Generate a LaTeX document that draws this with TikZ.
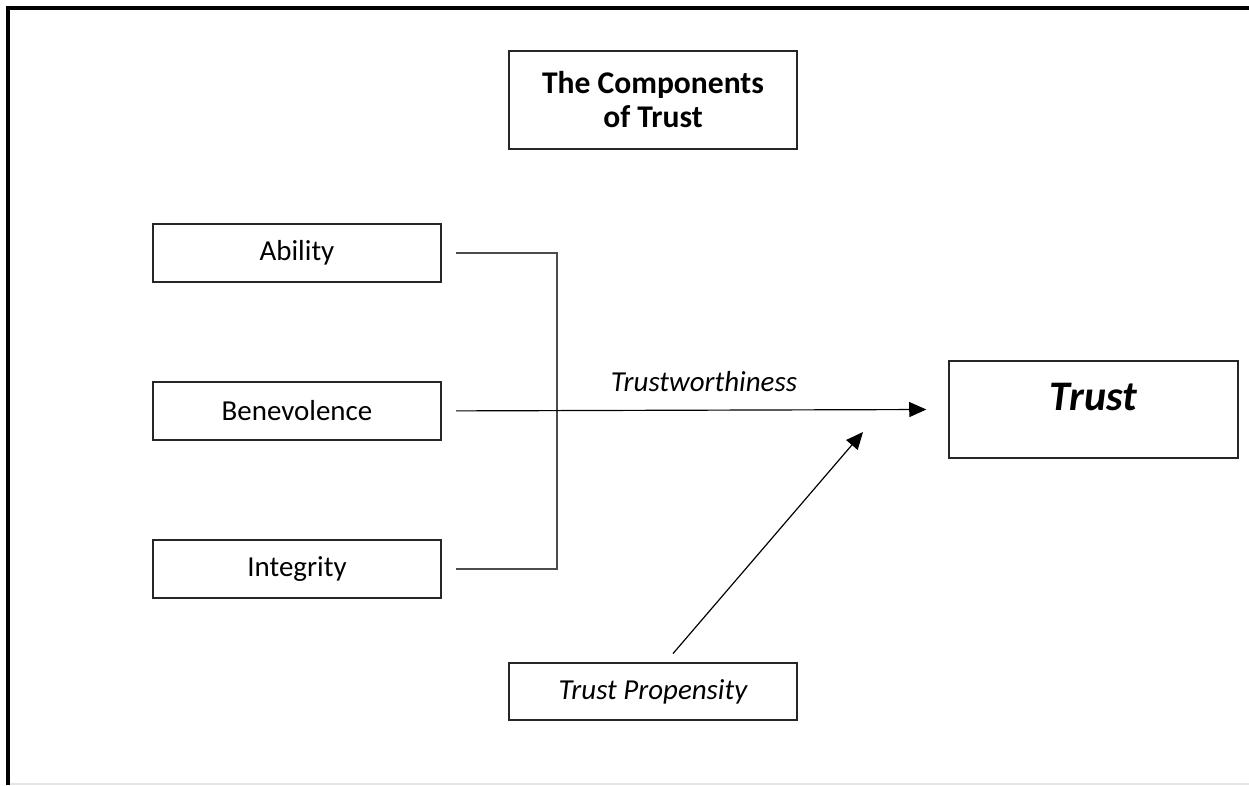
\documentclass[tikz,border=0pt]{standalone}
\usepackage{fontspec}
\setmainfont{Carlito}
\usetikzlibrary{arrows.meta}

\begin{document}
\begin{tikzpicture}[x=0.38pt, y=-0.38pt, node distance=60pt,
  box/.style={draw=black!85, line width=0.75pt, minimum width=109.5pt, minimum height=22pt,
    font=\fontsize{11}{13}\selectfont},
  link/.style={draw=black!70, line width=0.75pt},
  arrow/.style={line width=0.45pt, -{Triangle[length=6.5pt, width=5.7pt]}}]

  \useasboundingbox (0,0) rectangle (1249,785);

  % Frame
  \draw[line width=1.4pt] (1249,8) -- (8,8) -- (8,785);
  \draw[black!10, line width=0.4pt] (10,784) -- (1249,784);

  % Heading
  \node[box, minimum height=37.2pt, align=center,
    font=\fontsize{12}{12.9}\selectfont\bfseries] (title) at (653,100)
    {The Components\\of Trust};

  % Components
  \node[box] (ability) at (297,253) {Ability};
  \node[box, below of=ability] (benevolence) {Benevolence};
  \node[box, below of=benevolence] (integrity) {Integrity};

  % Outcome and propensity
  \node[box, minimum height=36.9pt, text depth=9.5pt,
    font=\fontsize{16}{18}\selectfont\bfseries\itshape] (trust) at (1093.5,409.5) {Trust};
  \node[box, font=\fontsize{11}{13}\selectfont\itshape] (propensity) at (653,691.5) {Trust Propensity};

  % Label
  \node[font=\fontsize{11}{13}\selectfont\itshape] (tw) at (704,382) {Trustworthiness};

  % Bracket joining the components
  \coordinate (join) at (557,0);
  \draw[link] ([xshift=5.3pt]ability.east) -| (join |- integrity.east)
    -- ([xshift=5.3pt]integrity.east);

  % Arrows into trust
  \coordinate (meet) at (863,432);
  \draw[arrow] ([xshift=5.3pt]benevolence.east) -- ([xshift=-8.4pt]trust.west);
  \draw[arrow] ([shift={(20,-8)}]propensity.north) -- (meet);

\end{tikzpicture}
\end{document}
